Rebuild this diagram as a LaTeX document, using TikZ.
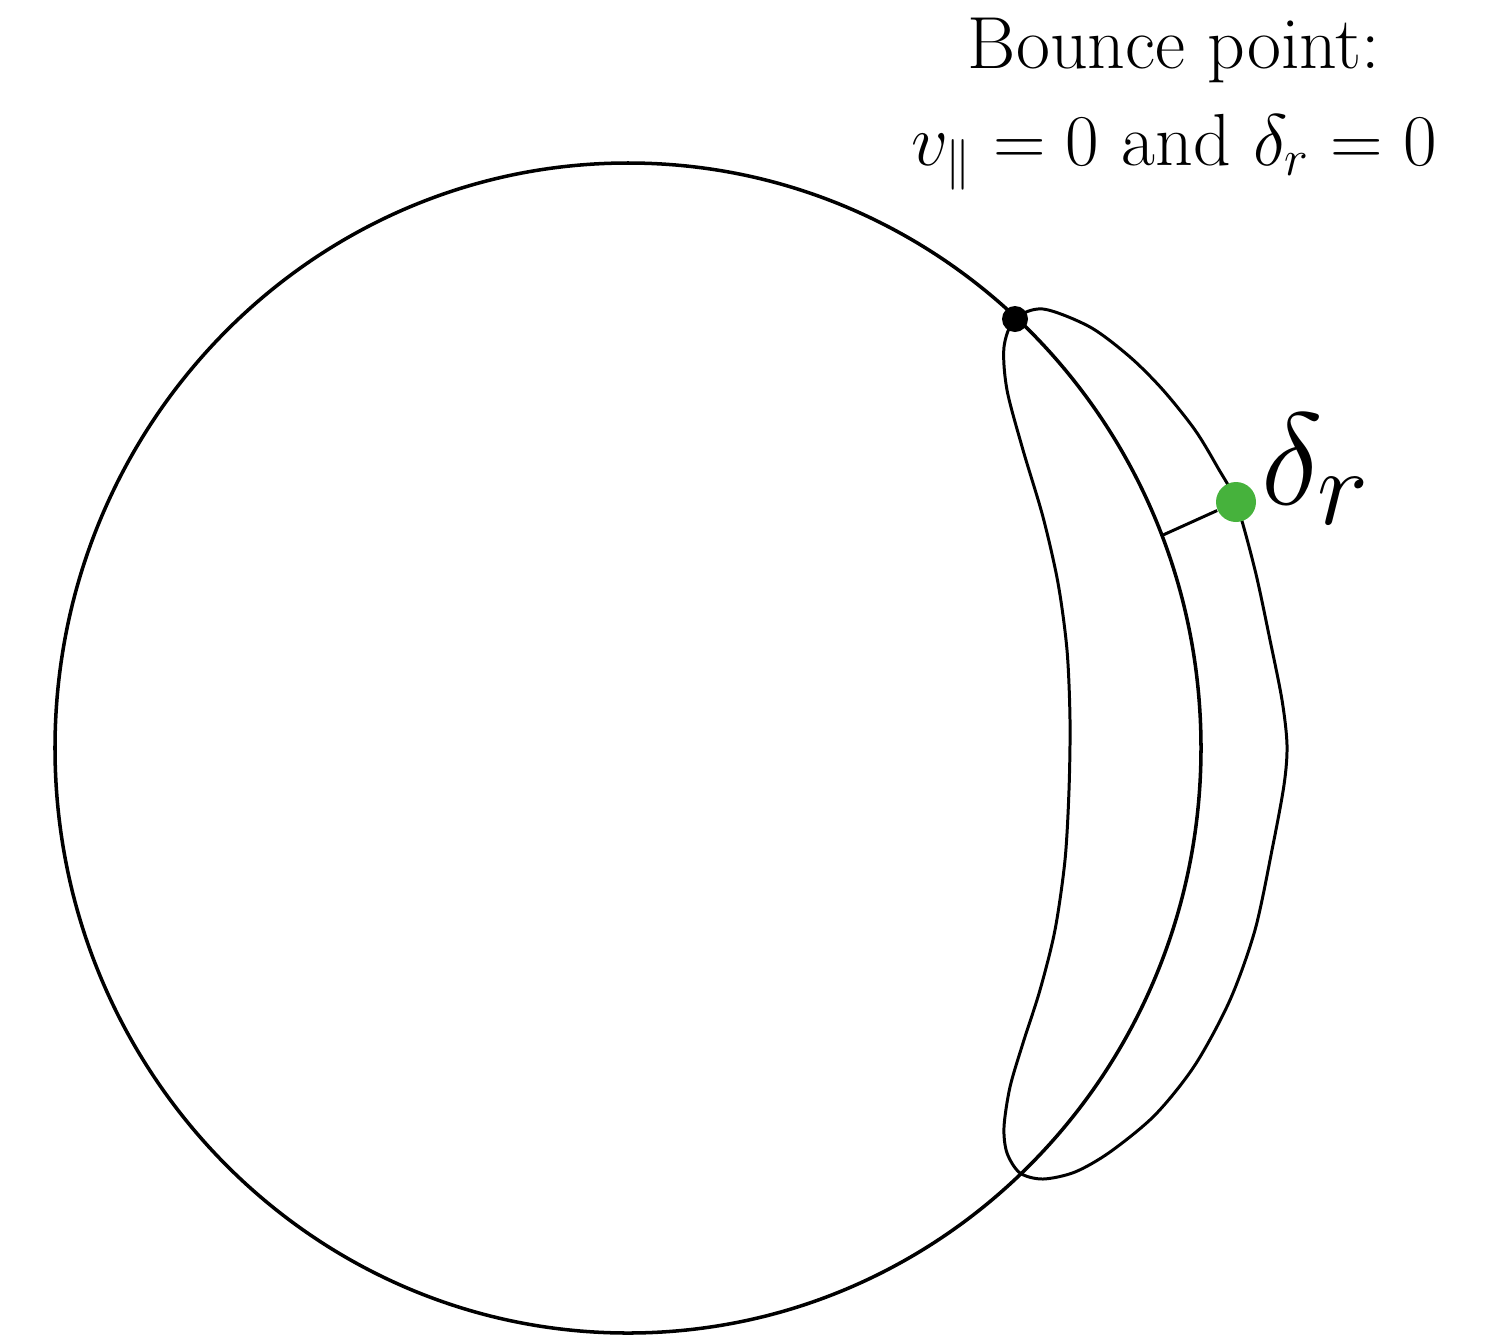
\documentclass[tikz,border=0pt]{standalone}
\usetikzlibrary{positioning}
\usepackage{amssymb}
\usepackage{amsmath}
\definecolor{dotgreen}{RGB}{70,178,60}

\begin{document}
\begin{tikzpicture}[
    mydot/.style={circle,fill=black, inner sep=0pt, minimum size=0.26cm},
    greendot/.style={circle,fill=dotgreen, inner sep=0pt, minimum size=0.4cm},
    curve/.style={line width=0.85pt}
    ]
    \useasboundingbox (0,0) rectangle (15.01,-13.36);
    \draw [line width=1pt] (6.28,-7.48) ellipse [x radius=5.73, y radius=5.85];

    \node[mydot] (bounce) at (10.15,-3.19) {};
    \draw [curve] plot [smooth cycle] coordinates {
        (10.15,-3.19) (10.43,-3.09) (10.90,-3.27) (11.30,-3.57) (11.63,-3.90)
        (11.95,-4.30) (12.18,-4.68) (12.36,-5.02) (12.55,-5.70) (12.70,-6.40)
        (12.82,-7.00) (12.87,-7.45) (12.84,-7.85) (12.72,-8.50) (12.55,-9.30)
        (12.30,-10.00) (11.95,-10.65) (11.55,-11.15) (11.10,-11.52) (10.75,-11.72)
        (10.43,-11.79) (10.20,-11.73) (10.07,-11.53) (10.04,-11.27) (10.10,-10.87)
        (10.23,-10.43) (10.40,-9.90) (10.55,-9.30) (10.65,-8.60) (10.69,-7.90)
        (10.70,-7.20) (10.67,-6.50) (10.58,-5.83) (10.43,-5.17) (10.23,-4.50)
        (10.07,-3.90) (10.04,-3.47)};

    \node[greendot, label={[font=\fontsize{19}{24}\selectfont, inner sep=0pt, label distance=0pt, xshift=0.03cm, yshift=0.33cm, scale=2.15]right:{$\delta_r$}}] (rdot) at (12.36,-5.02) {};
    \coordinate (foot) at (11.63,-5.35);
 \draw [curve](rdot) -- (foot);

    \node[anchor=base, font=\fontsize{21}{26}\selectfont] (title) at (11.74,-0.68) {Bounce point:};
    \node[anchor=base, font=\fontsize{21}{26}\selectfont] (cond) at (11.74,-1.65) {$v_{\|} = 0$ and $\delta_r = 0$};
\end{tikzpicture}
\end{document}
